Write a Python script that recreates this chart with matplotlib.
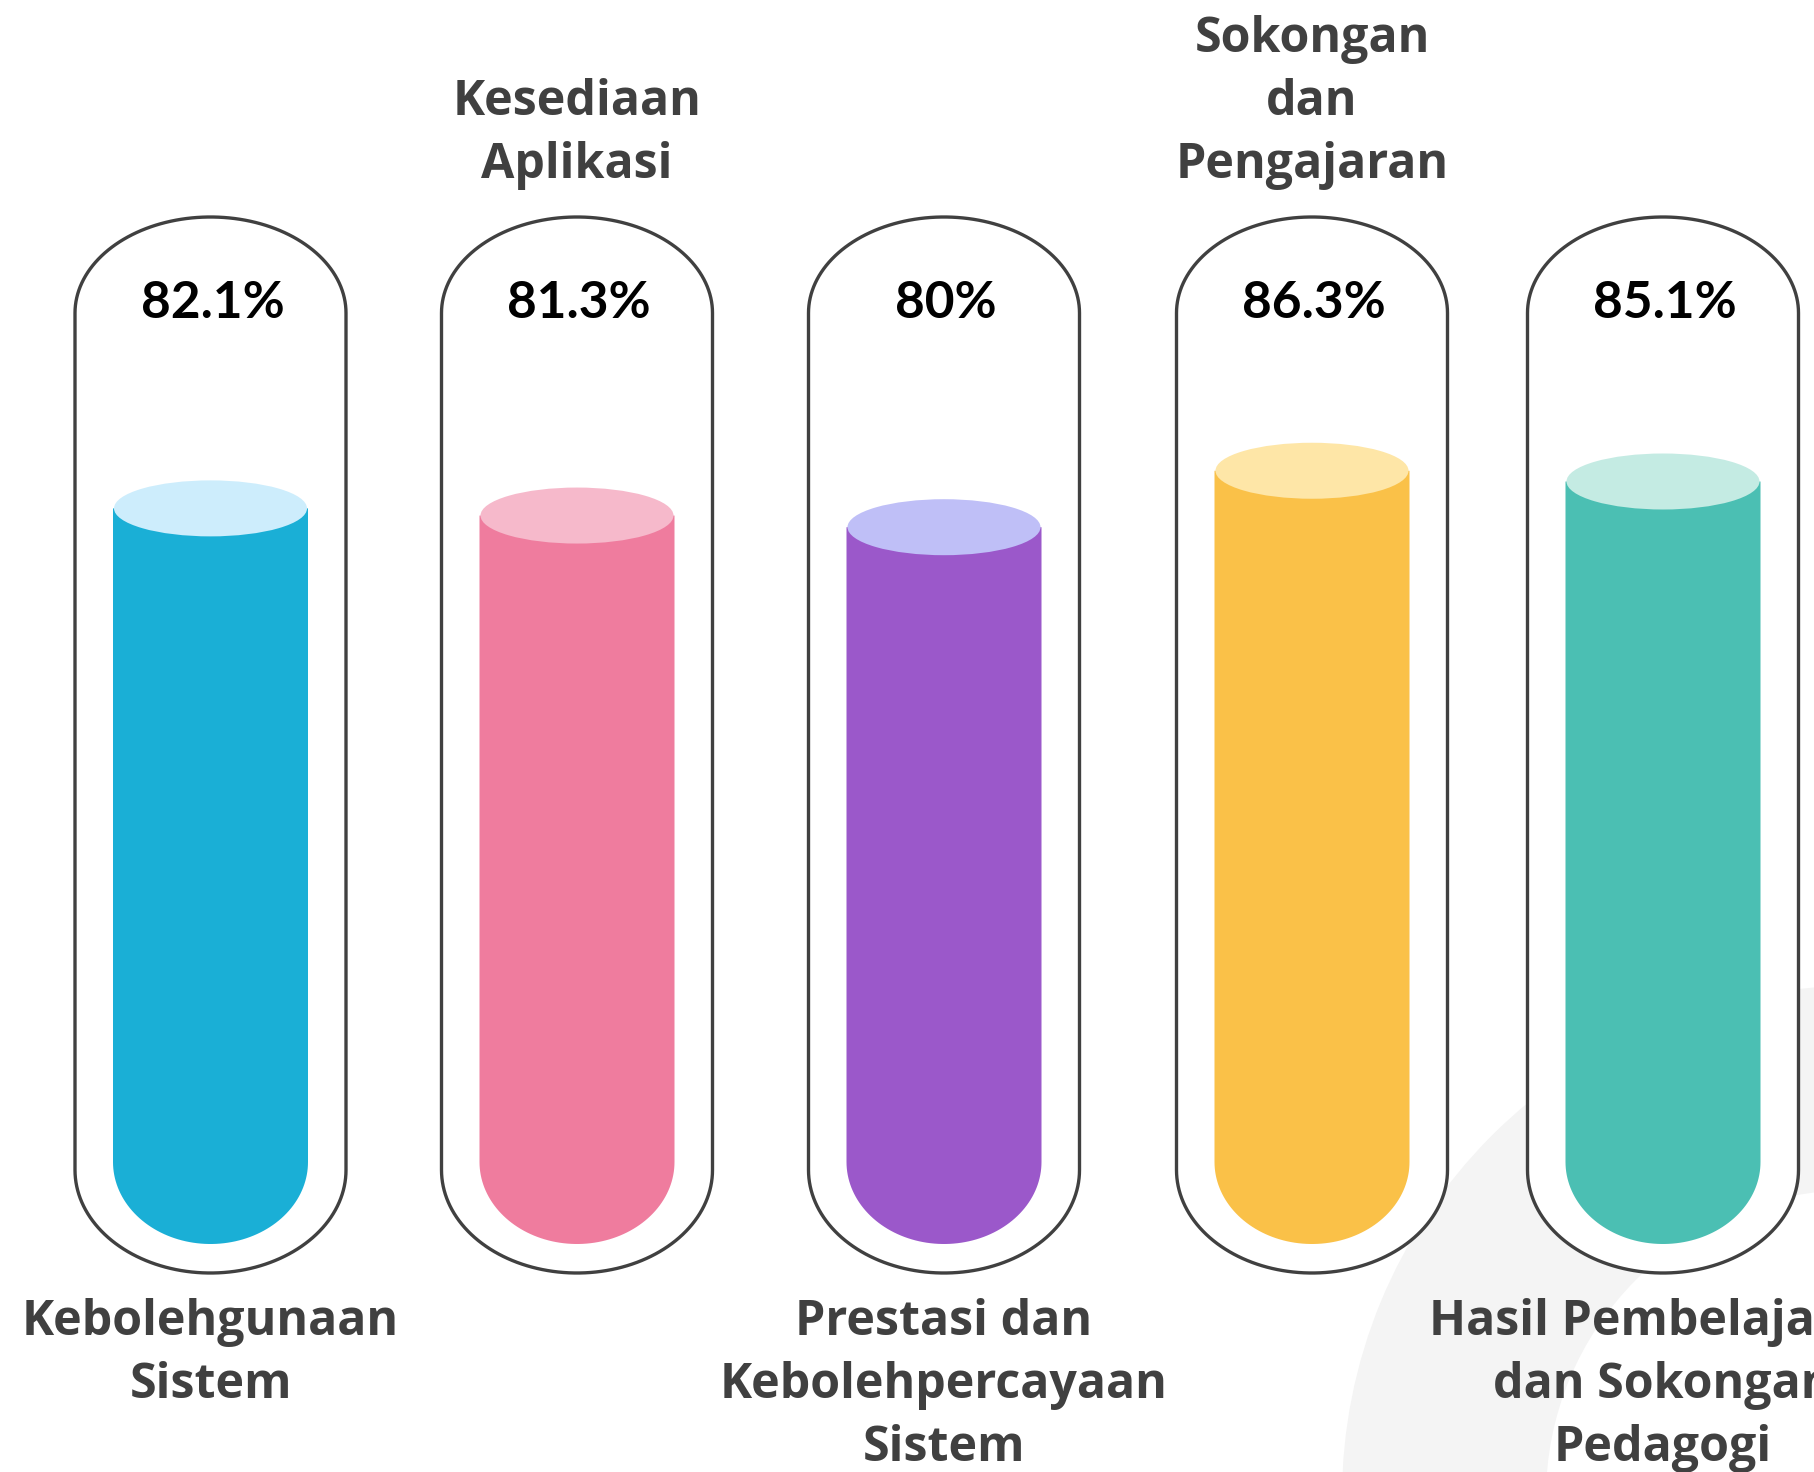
import numpy as np
import matplotlib.pyplot as plt
from matplotlib.patches import Polygon, Ellipse, Wedge

# tube chart: five rounded tubes, each filled to its percentage
values = [82.1, 81.3, 80, 86.3, 85.1]
top_labels = ["", "Kesediaan\nAplikasi", "", "Sokongan\ndan\nPengajaran", ""]
bottom_labels = ["Kebolehgunaan\nSistem", "", "Prestasi dan\nKebolehpercayaan\nSistem", "",
                 "Hasil Pembelajaran\ndan Sokongan\nPedagogi"]
body_colors = ["#1AAFD6", "#EF7C9E", "#9B58CA", "#FAC148", "#4BBFB3"]
cap_colors = ["#CDEDFC", "#F6B9CB", "#BFBFF7", "#FEE6A7", "#C4EBE3"]

W, H = 1814, 1472
centers = [210.5, 577, 944, 1312, 1663]

# tube outline (pixels)
tube_hw = 135.5
tube_top, tube_top_b = 217, 96
tube_bot, tube_bot_b = 1273, 103
# liquid (pixels)
fill_hw = 97.5
fill_bottom = 1244
fill_round = 82
cap_h = 56
px_per_pct = 8.96

fig = plt.figure(figsize=(W / 100, H / 100), dpi=100)
bg = fig.add_axes([0, 0, 1, 1])
bg.set_xlim(0, W)
bg.set_ylim(H, 0)
bg.axis("off")

# soft grey ring in the lower right corner
bg.add_patch(Wedge((1853, 1497), 511, 0, 360, width=204, facecolor="#F4F4F4",
                   edgecolor="none", zorder=0))

t = np.linspace(0, np.pi, 80)
for cx in centers:
    ytop_c = tube_top + tube_top_b
    ybot_c = tube_bot - tube_bot_b
    top = np.column_stack([cx + tube_hw * np.cos(t), ytop_c - tube_top_b * np.sin(t)])
    bot = np.column_stack([cx - tube_hw * np.cos(t), ybot_c + tube_bot_b * np.sin(t)])
    pts = np.vstack([top, bot])
    bg.add_patch(Polygon(pts, closed=True, facecolor="white", edgecolor="#404040",
                         linewidth=2.4, zorder=2))

# data axes: y in percent, 0 at the bottom of the liquid
ax = fig.add_axes([0, 0, 1, 1])
ax.patch.set_visible(False)
ax.axis("off")
ax.set_xlim(0, W)
ax.set_ylim((fill_bottom - H) / px_per_pct, fill_bottom / px_per_pct)

r_b = fill_round / px_per_pct
cap_b = cap_h / px_per_pct
for cx, v, bc, cc in zip(centers, values, body_colors, cap_colors):
    arc = np.column_stack([cx - fill_hw * np.cos(t), r_b - r_b * np.sin(t)])
    body = np.vstack([arc, [[cx + fill_hw, v], [cx - fill_hw, v]]])
    ax.add_patch(Polygon(body, closed=True, facecolor=bc, edgecolor="none", zorder=3))
    ax.add_patch(Ellipse((cx, v), 2 * fill_hw - 2, cap_b, facecolor=cc,
                         edgecolor="none", zorder=4))

# value labels inside the tubes
for cx, v in zip(centers, values):
    bg.text(cx + 2, 318, f"{v:g}%", ha="center", va="baseline", fontsize=37,
            fontweight="bold", family="Lato", color="black", zorder=5)

line_gap = 63
for cx, lab in zip(centers, top_labels):
    lines = lab.split("\n") if lab else []
    for k, line in enumerate(reversed(lines)):
        bg.text(cx, 178 - k * line_gap, line, ha="center", va="baseline", fontsize=34.8,
                fontweight="bold", family="Open Sans", color="#404040", zorder=5)

for cx, lab in zip(centers, bottom_labels):
    lines = lab.split("\n") if lab else []
    for k, line in enumerate(lines):
        bg.text(cx, 1335 + k * line_gap, line, ha="center", va="baseline", fontsize=34.8,
                fontweight="bold", family="Open Sans", color="#404040", zorder=5)

fig.savefig("out.png", dpi=100)
